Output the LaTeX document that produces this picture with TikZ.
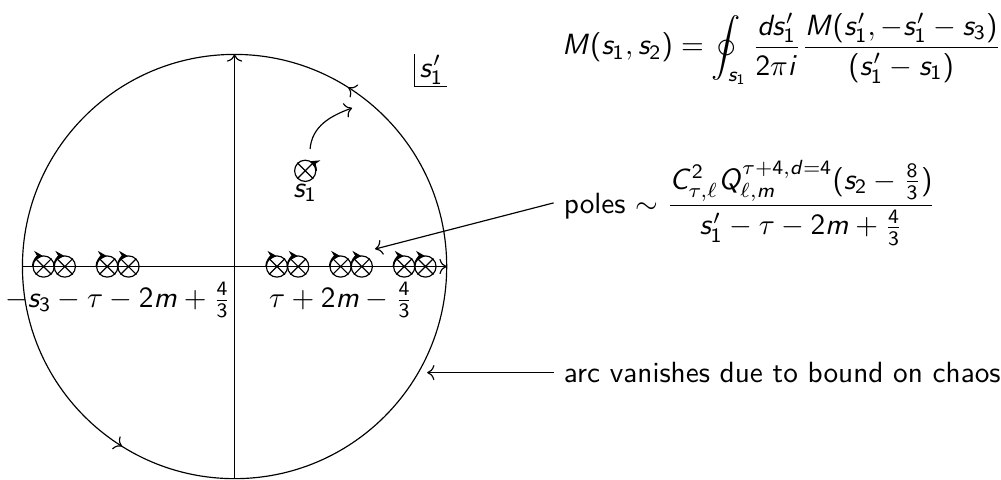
\documentclass[tikz,border=0pt]{standalone}
\usetikzlibrary{arrows.meta,decorations.markings}
\renewcommand{\familydefault}{\sfdefault}
\DeclareSymbolFont{sfit}{OT1}{cmss}{m}{sl}
\SetSymbolFont{operators}{normal}{OT1}{cmss}{m}{n}
\newcommand\sfl[1]{\DeclareMathSymbol{#1}{\mathalpha}{sfit}{`#1}}
\sfl M \sfl s \sfl d \sfl i \sfl m \sfl C \sfl Q
\begin{document}
\begin{tikzpicture}[scale=1.02,
  pole/.style={circle, draw, minimum size=0.255cm, inner sep=0pt},
  smalltip/.style={-{Stealth[length=3pt,width=3.4pt]}},
  bigcircle/.style={postaction={decorate}, decoration={markings,
      mark=at position 0.16 with {\arrow{>}},
      mark=at position 0.661 with {\arrow{>}}}}
]
\useasboundingbox (-2.764,-2.504) rectangle (9.033,3.141);
\coordinate (O) at (0,0);
\coordinate (W) at (-2.5,0);
\coordinate (E) at (2.5,0);
\coordinate (S) at (0,-2.5);
\coordinate (N) at (0,2.5);
% big contour
\draw[bigcircle] (E) arc[start angle=0, end angle=360, radius=2.5];
% axes
\draw[->] (W) -- (E);
\draw[->] (S) -- (N);
% poles on the real axis (clockwise)
\foreach \x [count=\i] in {-2.25,-2.0,-1.5,-1.25,0.5,0.75,1.25,1.5,2.0,2.25}{
  \node[pole] (p\i) at (\x,0) {};
  \draw (p\i.north west) -- (p\i.south east) (p\i.north east) -- (p\i.south west);
  \draw[smalltip] (p\i.west) arc[start angle=180, end angle=90, radius=0.125cm];
}
% pole s1 (counterclockwise)
\node[pole] (s1) at (0.833,1.128) {};
\draw (s1.north west) -- (s1.south east) (s1.north east) -- (s1.south west);
\draw[smalltip] (s1.east) arc[start angle=0, end angle=65, radius=0.125cm];
\node[anchor=north, inner sep=0.5pt] (s1lab) at (s1.south) {$s_1$};
% deformation arrow
\coordinate (ca) at (0.89,1.385);
\coordinate (cb) at (1.385,1.868);
\draw[->] (ca) to[out=85, in=200] (cb);
% variable box
\coordinate (vtl) at (2.125,2.5);
\coordinate (vbr) at (2.5,2.125);
\node[inner sep=1pt] (var) at (2.32,2.316) {$s'_1$};
\draw (vtl) |- (vbr);
% pole labels
\node (lab1) at (-1.373,-0.395) {$-s_3-\tau-2m+\frac{4}{3}$};
\node (lab2) at (1.255,-0.395) {$\tau+2m-\frac{4}{3}$};
% formula
\node[anchor=west] (eq) at (3.74,2.565) {$\displaystyle M(s_1,s_2)=\oint_{s_1}\frac{ds'_1}{2\pi i}\frac{M(s'_1,-s'_1-s_3)}{(s'_1-s_1)}$};
% poles
\node[anchor=west] (poles) at (3.76,0.75) {poles $\displaystyle\sim\frac{C^2_{\tau,\ell}Q^{\tau+4,d=4}_{\ell,m}(s_2-\frac{8}{3})}{s'_1-\tau-2m+\frac{4}{3}}$};
\coordinate (pt) at (1.656,0.206);
\draw[->] (poles.west) -- (pt);
% arc
\node[anchor=west] (arc) at (3.76,-1.25) {arc vanishes due to bound on chaos};
\coordinate (at) at (2.27,-1.25);
\draw[->] (arc.west) -- (at);
\end{tikzpicture}
\end{document}
